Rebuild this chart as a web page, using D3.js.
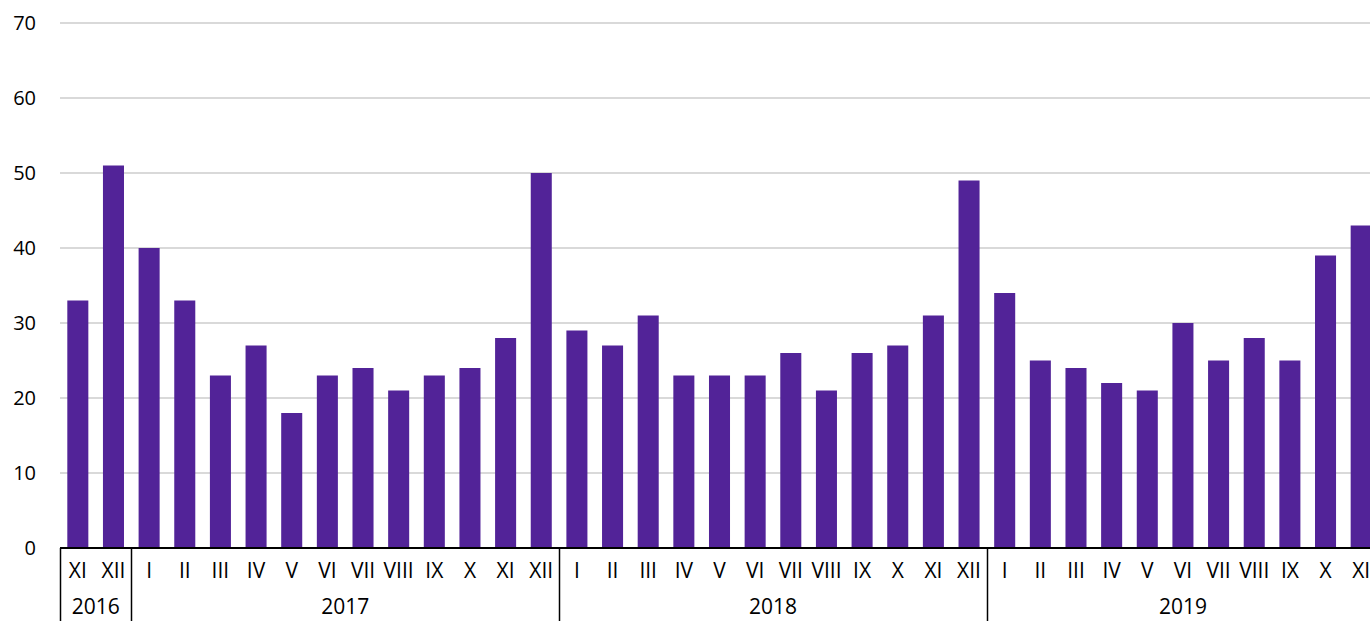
<!DOCTYPE html>
<html>
<head>
<meta charset="utf-8">
<script src="https://cdn.jsdelivr.net/npm/d3@7"></script>
<style>
  body { margin: 0; background: #fff; }
  text { font-family: "Open Sans", "Noto Sans", sans-serif; fill: #000; }
</style>
</head>
<body>
<script>
// months shown on the axis, grouped by year
const years = ["2016", "2017", "2018", "2019"];
const monthsByYear = [
  ["XI", "XII"],
  ["I", "II", "III", "IV", "V", "VI", "VII", "VIII", "IX", "X", "XI", "XII"],
  ["I", "II", "III", "IV", "V", "VI", "VII", "VIII", "IX", "X", "XI", "XII"],
  ["I", "II", "III", "IV", "V", "VI", "VII", "VIII", "IX", "X", "XI"]
];
const values2016 = [33, 51];
const values2017 = [40, 33, 23, 27, 18, 23, 24, 21, 23, 24, 28, 50];
const values2018 = [29, 27, 31, 23, 23, 23, 26, 21, 26, 27, 31, 49];
const values2019 = [34, 25, 24, 22, 21, 30, 25, 28, 25, 39, 43];
const yTicks = [0, 10, 20, 30, 40, 50, 60, 70];

const valuesByYear = [values2016, values2017, values2018, values2019];

// flatten into one row per bar
const data = [];
years.forEach((yr, gi) => {
  monthsByYear[gi].forEach((m, mi) => {
    data.push({ key: yr + "-" + m, year: yr, month: m, value: valuesByYear[gi][mi] });
  });
});

const width = 1370, height = 621;
const left = 60, plotRight = 1379;

const svg = d3.select("body").append("svg")
    .attr("width", width)
    .attr("height", height);

const x = d3.scaleBand()
    .domain(data.map(d => d.key))
    .range([left, plotRight])
    .paddingInner(0.41)
    .paddingOuter(0.205);

const y = d3.scaleLinear()
    .domain([0, 70])
    .range([548, 23]);

// gridlines
svg.append("g")
  .selectAll("line")
  .data(yTicks.filter(t => t > 0))
  .join("line")
    .attr("x1", left)
    .attr("x2", width)
    .attr("y1", d => y(d))
    .attr("y2", d => y(d))
    .attr("stroke", "#d9d9d9")
    .attr("stroke-width", 2);

// y labels
svg.append("g")
  .selectAll("text")
  .data(yTicks)
  .join("text")
    .attr("x", 36)
    .attr("y", d => y(d))
    .attr("dy", "0.35em")
    .attr("text-anchor", "end")
    .style("font-size", "20px")
    .text(d => d);

// bars
svg.append("g")
  .selectAll("rect")
  .data(data)
  .join("rect")
    .attr("x", d => x(d.key))
    .attr("y", d => y(d.value))
    .attr("width", x.bandwidth())
    .attr("height", d => y(0) - y(d.value))
    .attr("fill", "#522398");

// baseline
svg.append("line")
    .attr("x1", left)
    .attr("x2", width)
    .attr("y1", y(0))
    .attr("y2", y(0))
    .attr("stroke", "#000")
    .attr("stroke-width", 2);

// month labels
svg.append("g")
  .selectAll("text")
  .data(data)
  .join("text")
    .attr("x", d => x(d.key) + x.bandwidth() / 2)
    .attr("y", 571)
    .attr("dy", "0.35em")
    .attr("text-anchor", "middle")
    .style("font-size", "21px")
    .text(d => d.month);

// year groups: separators and labels
const step = x.step();
const gap = step * x.paddingInner() / 2;
const groups = years.map((yr, gi) => {
  const first = data.find(d => d.year === yr);
  const n = monthsByYear[gi].length;
  const x0 = x(first.key) - gap;
  return { year: yr, x0: x0, x1: x0 + n * step };
});

svg.append("g")
  .selectAll("line")
  .data(groups)
  .join("line")
    .attr("x1", d => Math.round(d.x0) + 0.5)
    .attr("x2", d => Math.round(d.x0) + 0.5)
    .attr("y1", y(0))
    .attr("y2", height)
    .attr("stroke", "#000")
    .attr("stroke-width", 1.5);

svg.append("g")
  .selectAll("text")
  .data(groups)
  .join("text")
    .attr("x", d => (d.x0 + d.x1) / 2)
    .attr("y", 607)
    .attr("dy", "0.35em")
    .attr("text-anchor", "middle")
    .style("font-size", "21px")
    .text(d => d.year);
</script>
</body>
</html>
